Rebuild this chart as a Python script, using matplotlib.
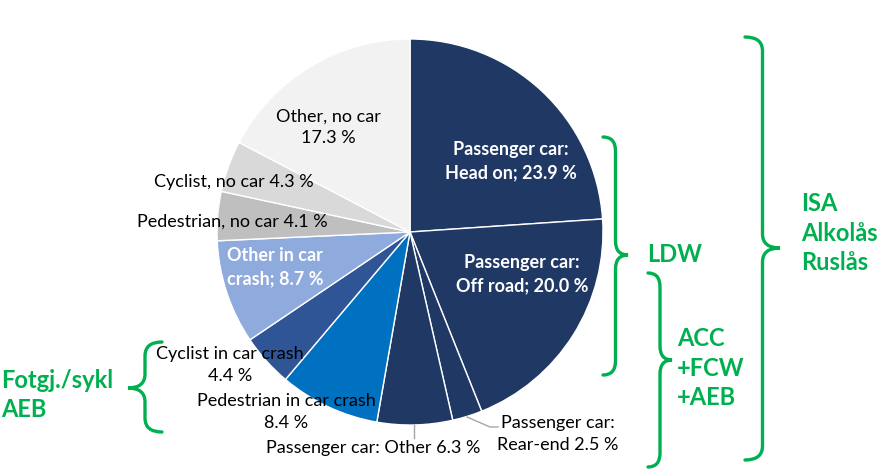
import matplotlib.pyplot as plt
from matplotlib.path import Path
from matplotlib.patches import PathPatch

# ===============================
# DATA
# ===============================

categories = [
    "Passenger car:\nHead on; 23.9 %",
    "Passenger car:\nOff road; 20.0 %",
    "Passenger car:\nRear-end 2.5 %",
    "Passenger car: Other 6.3 %",
    "Pedestrian in car crash\n8.4 %",
    "Cyclist in car crash\n4.4 %",
    "Other in car\ncrash; 8.7 %",
    "Pedestrian, no car 4.1 %",
    "Cyclist, no car 4.3 %",
    "Other, no car\n17.3 %",
]
shares = [23.9, 20.0, 2.5, 6.3, 8.4, 4.4, 8.7, 4.1, 4.3, 17.3]
colors = ["#203864", "#203864", "#203864", "#203864", "#0070C0",
          "#2F5597", "#8FAADC", "#BFBFBF", "#D9D9D9", "#F2F2F2"]
white_label = [True, True, False, False, False, False, True, False, False, False]

group_labels = ["LDW", "ACC\n+FCW\n+AEB", "ISA\nAlkolås\nRuslås", "Fotgj./sykl\nAEB"]

GREEN = "#00B050"
W, H = 877, 469

plt.rcParams["font.family"] = ["Lato", "DejaVu Sans"]

fig = plt.figure(figsize=(W / 100, H / 100), dpi=100)
ax = fig.add_axes([0, 0, 1, 1])


def py(y):
    # pixel row (top = 0) -> axes y
    return H - y


# ===============================
# PIE
# ===============================

ax.pie(shares, colors=colors, startangle=90, counterclock=False,
       center=(410, py(232)), radius=193, frame=True,
       wedgeprops=dict(edgecolor="white", linewidth=1.0))
ax.set_xlim(0, W)
ax.set_ylim(0, H)
ax.axis("off")

# label positions (pixel centres)
label_pos = [(511, 161), (522, 274), (558, 434), (373, 448), (286, 412),
             (230, 365), (275, 267), (232, 222), (234, 182), (328, 127)]

for text, (x, y), is_white in zip(categories, label_pos, white_label):
    ax.text(x, py(y), text, ha="center", va="center", fontsize=13,
            color="white" if is_white else "black",
            fontweight="bold" if is_white else "normal", linespacing=1.42)

# leader lines
ax.plot([414, 414], [py(425), py(438)], color="#A6A6A6", lw=1)
ax.plot([467, 490, 498], [py(417), py(427), py(427)], color="#A6A6A6", lw=1)


# ===============================
# BRACES
# ===============================

def brace(xh, xt, y0, ytip, y1, r=14):
    xv = (xh + xt) / 2
    verts = [
        (xh, py(y0)), (xv, py(y0)), (xv, py(y0 + r)),
        (xv, py(ytip - r)),
        (xv, py(ytip)), (xt, py(ytip)),
        (xv, py(ytip)), (xv, py(ytip + r)),
        (xv, py(y1 - r)),
        (xv, py(y1)), (xh, py(y1)),
    ]
    codes = [Path.MOVETO, Path.CURVE3, Path.CURVE3,
             Path.LINETO,
             Path.CURVE3, Path.CURVE3,
             Path.CURVE3, Path.CURVE3,
             Path.LINETO,
             Path.CURVE3, Path.CURVE3]
    ax.add_patch(PathPatch(Path(verts, codes), fill=False,
                           edgecolor=GREEN, lw=2.4, capstyle="round"))


brace(603, 628, 137, 255, 375)
brace(648, 672, 273, 360, 467)
brace(745, 780, 37, 248, 460)
brace(162, 128, 342, 388, 432)

green_style = dict(color=GREEN, fontsize=17, fontweight="bold",
                   ha="left", va="center", linespacing=1.32)
ax.text(647, py(254), group_labels[0], **green_style)
ax.text(677, py(368), group_labels[1], **green_style)
ax.text(801, py(233), group_labels[2], **green_style)
ax.text(1, py(395), group_labels[3], **green_style)

plt.savefig("out.png", dpi=100)
